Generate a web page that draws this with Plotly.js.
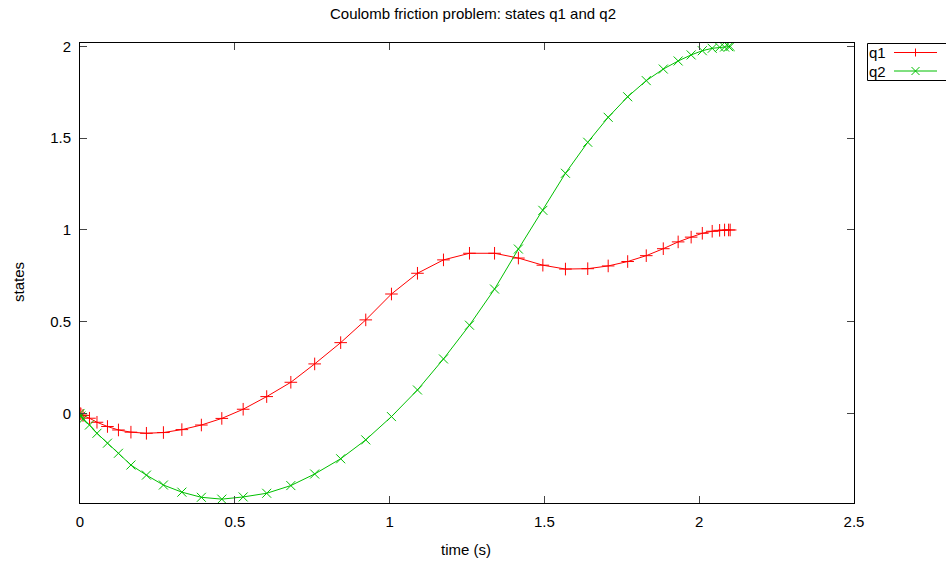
<!DOCTYPE html>
<html><head><meta charset="utf-8">
<script src="https://cdn.plot.ly/plotly-3.0.1.min.js"></script>
<style>html,body{margin:0;padding:0;background:#fff}#chart{width:946px;height:563px}</style>
</head><body><div id="chart"></div>
<script>
// ---- data ----
const time = [0, 0.003, 0.0097, 0.0306, 0.0548, 0.0887, 0.1242, 0.1645, 0.2145, 0.2694,
  0.329, 0.392, 0.458, 0.527, 0.603, 0.681, 0.758, 0.842, 0.923, 1.006,
  1.090, 1.174, 1.258, 1.339, 1.416, 1.495, 1.568, 1.640, 1.706, 1.769,
  1.829, 1.884, 1.932, 1.974, 2.010, 2.042, 2.066, 2.082, 2.095, 2.1];
const q1 = [0, -0.003, -0.011, -0.026, -0.048, -0.071, -0.090, -0.102, -0.108, -0.104,
  -0.088, -0.063, -0.027, 0.023, 0.092, 0.170, 0.270, 0.386, 0.510, 0.651,
  0.764, 0.837, 0.873, 0.873, 0.847, 0.808, 0.787, 0.789, 0.804, 0.828,
  0.860, 0.898, 0.935, 0.961, 0.982, 0.993, 0.998, 1.0, 1.0, 1.0];
const q2 = [0, -0.014, -0.032, -0.063, -0.108, -0.162, -0.217, -0.281, -0.336, -0.390,
  -0.429, -0.457, -0.467, -0.455, -0.435, -0.393, -0.330, -0.247, -0.144, -0.017,
  0.128, 0.297, 0.481, 0.678, 0.896, 1.107, 1.309, 1.478, 1.614, 1.726,
  1.814, 1.877, 1.921, 1.954, 1.977, 1.990, 1.996, 1.997, 1.999, 2.0];
const seriesNames = ['q1', 'q2'];
const xTickVals = [0, 0.5, 1, 1.5, 2, 2.5];
const xTickText = ['0', '0.5', '1', '1.5', '2', '2.5'];
const yTickVals = [0, 0.5, 1, 1.5, 2];
const yTickText = ['0', '0.5', '1', '1.5', '2'];
const chartTitle = 'Coulomb friction problem: states q1 and q2';
const xTitle = 'time (s)';
const yTitle = 'states';

// ---- style ----
const FONT = '"Liberation Sans", Arial, sans-serif';
const FS = 15;
const colors = ['#ff0000', '#00c000'];
const symbols = ['cross-thin-open', 'x-thin-open'];
const seriesData = [q1, q2];

const traces = seriesData.map((ys, i) => ({
  x: time, y: ys, type: 'scatter', mode: 'lines+markers', name: seriesNames[i],
  showlegend: false, cliponaxis: true,
  line: {color: colors[i], width: 1},
  marker: {symbol: symbols[i], size: 9, color: colors[i], line: {color: colors[i], width: 1}}
}));

// custom gnuplot-style key (text left, sample right)
const W = 774, H = 460; // plot area px
const px = v => (v - 80) / W, py = v => (503 - v) / H;
const shapes = [{type: 'rect', xref: 'paper', yref: 'paper', x0: px(867.5), x1: px(952), y0: py(80.5), y1: py(43.5),
  line: {color: '#000', width: 1}, fillcolor: 'rgba(0,0,0,0)'}];
const annotations = [];
const keyRows = [52.5, 71];
seriesNames.forEach((nm, i) => {
  const yy = py(keyRows[i]);
  shapes.push({type: 'line', xref: 'paper', yref: 'paper', x0: px(894), x1: px(937), y0: yy, y1: yy,
    line: {color: colors[i], width: 1}});
  const path = i === 0 ? 'M-4,0L4,0M0,-4L0,4' : 'M-4,-4L4,4M-4,4L4,-4';
  shapes.push({type: 'path', xref: 'paper', yref: 'paper', xsizemode: 'pixel', ysizemode: 'pixel',
    xanchor: px(915.5), yanchor: yy, path: path, line: {color: colors[i], width: 1}});
  annotations.push({text: nm, xref: 'paper', yref: 'paper', x: px(867), y: yy, xanchor: 'left', yanchor: 'middle',
    showarrow: false, font: {family: FONT, size: FS, color: '#000'}});
});
annotations.push({text: xTitle, xref: 'paper', yref: 'paper', x: px(466), y: py(549), xanchor: 'center', yanchor: 'middle',
  showarrow: false, font: {family: FONT, size: FS, color: '#000'}});
annotations.push({text: yTitle, xref: 'paper', yref: 'paper', x: px(18), y: py(282), xanchor: 'center', yanchor: 'middle',
  textangle: -90, showarrow: false, font: {family: FONT, size: FS, color: '#000'}});

const axisCommon = {
  showgrid: false, zeroline: false, showline: true, linecolor: '#000', linewidth: 1, mirror: 'ticks',
  ticks: 'inside', ticklen: 7, tickwidth: 1, tickcolor: '#444', tickmode: 'array',
  tickfont: {family: FONT, size: FS, color: '#000'}
};

const layout = {
  width: 946, height: 563,
  margin: {l: 80, r: 92, t: 43, b: 60, pad: 0},
  paper_bgcolor: '#fff', plot_bgcolor: '#fff',
  font: {family: FONT, size: FS, color: '#000'},
  title: {text: chartTitle, x: 0.5, xref: 'container', xanchor: 'center', y: 1 - 14 / 563, yref: 'container', yanchor: 'middle',
    font: {family: FONT, size: FS, color: '#000'}},
  xaxis: Object.assign({}, axisCommon, {range: [0, 2.5], tickvals: xTickVals, ticktext: xTickText, ticklabelstandoff: 5}),
  yaxis: Object.assign({}, axisCommon, {range: [-0.488, 2.019], tickvals: yTickVals, ticktext: yTickText, ticklabelstandoff: 5}),
  showlegend: false,
  shapes: shapes, annotations: annotations
};

Plotly.newPlot('chart', traces, layout, {displayModeBar: false, staticPlot: true});
</script></body></html>
